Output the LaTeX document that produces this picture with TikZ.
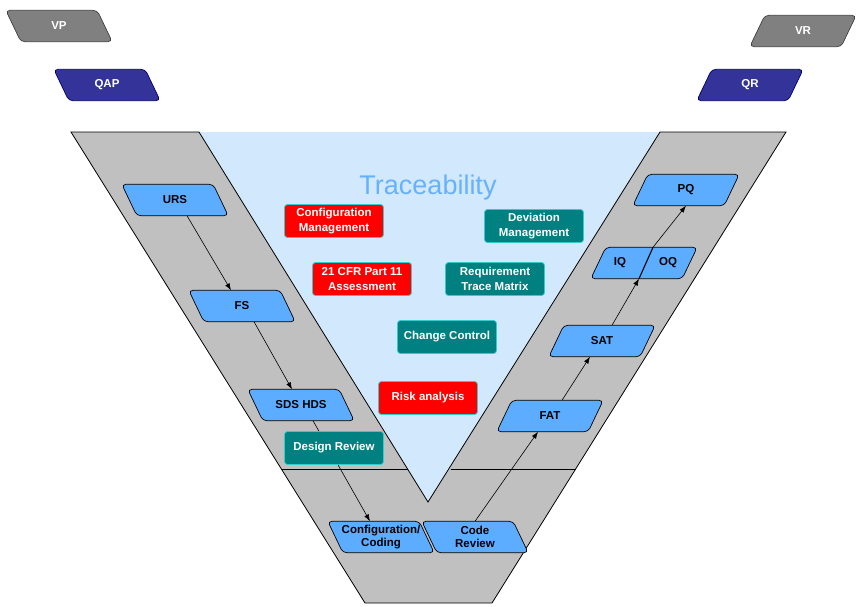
\documentclass[tikz,border=0pt]{standalone}
\usepackage{fontspec}
\setmainfont{Liberation Sans}
\usetikzlibrary{arrows.meta}
\definecolor{bandgray}{RGB}{192,192,192}
\definecolor{trifill}{RGB}{210,232,252}
\definecolor{boxblue}{RGB}{92,172,255}
\definecolor{tealc}{RGB}{0,128,128}
\definecolor{redc}{RGB}{255,0,0}
\definecolor{navyc}{RGB}{51,51,153}
\definecolor{navyb}{RGB}{0,0,110}
\definecolor{grayc}{RGB}{128,128,128}
\definecolor{grayb}{RGB}{64,64,64}
\definecolor{cyanb}{RGB}{51,204,204}
\definecolor{tracec}{RGB}{102,178,255}
\pgfdeclarelayer{bg}\pgfdeclarelayer{mid}\pgfsetlayers{bg,mid,main}
% #1 shape style, #2 text colour, #3 name, #4 position, #5 slant, #6 text
\newcommand{\pbox}[6]{%
  \node[ptext, text=#2] (#3) at #4 {#6};
  \begin{pgfonlayer}{mid}
    \path[pshape, #1] ([xshift={-(#5)*1pt}]#3.north west) -- ([xshift={-(#5)*1pt}]#3.north east)
      -- ([xshift={(#5)*1pt}]#3.south east) -- ([xshift={(#5)*1pt}]#3.south west) -- cycle;
  \end{pgfonlayer}}
\begin{document}
\begin{tikzpicture}[x=1pt,y=-1pt,
  ptext/.style={rectangle, minimum width=91pt, minimum height=31pt, inner sep=0pt,
    font=\fontsize{11.5}{13}\selectfont\bfseries, align=center},
  pshape/.style={rounded corners=4pt, line width=0.7pt},
  pblue/.style={fill=boxblue, draw=black},
  pgray/.style={fill=grayc, draw=grayb},
  pnavy/.style={fill=navyc, draw=navyb},
  rbox/.style={rectangle, rounded corners=3pt, minimum width=99pt, minimum height=33pt,
    draw=cyanb, line width=0.8pt, text=white, inner sep=1pt,
    font=\fontsize{11.5}{14.5}\selectfont\bfseries, align=center},
  redbox/.style={rbox, fill=redc},
  tealbox/.style={rbox, fill=tealc},
  arr/.style={draw=black, line width=0.6pt, -{Latex[length=7pt,width=5pt]}},
  lbl/.style={font=\fontsize{11.5}{13}\selectfont\bfseries, inner sep=0pt}
]
\useasboundingbox (0,0) rectangle (863,606);

% top boxes
\pbox{pgray}{white}{vp}{(59,26)}{7.5}{VP}
\pbox{pnavy}{white}{qap}{(107,85)}{7.5}{QAP}
\pbox{pgray}{white}{vr}{(803,31)}{-7.5}{VR}
\pbox{pnavy}{white}{qr}{(750,85)}{-7.5}{QR}

\node[text=tracec, font=\fontsize{27}{30}\selectfont, inner sep=0pt] (trace) at (428,188) {Traceability};

% V boxes
\pbox{pblue}{black}{urs}{(175,200)}{7.5}{URS}
\pbox{pblue}{black}{fs}{(242,306)}{7.5}{FS}
\pbox{pblue}{black}{sds}{(301,405)}{7.5}{SDS HDS}
\pbox{pblue}{black}{cc}{(381,537)}{7.5}{Configuration/\\Coding}
\pbox{pblue}{black}{cr}{(475,537)}{7.5}{Code\\Review}
\pbox{pblue}{black}{fat}{(550,416)}{-7.5}{FAT}
\pbox{pblue}{black}{sat}{(602,341)}{-7.5}{SAT}
\pbox{pblue}{black}{iqoq}{(644,263)}{-7.5}{}
\node[lbl] (iq) at (620,263) {IQ};
\node[lbl] (oq) at (668,263) {OQ};
\pbox{pblue}{black}{pq}{(686,190)}{-7.5}{PQ}

% inner boxes
\node[redbox] (cm) at (334,221) {Configuration\\Management};
\node[tealbox] (dm) at (534,226) {Deviation\\Management};
\node[redbox] (cfr) at (362,279) {21 CFR Part 11\\Assessment};
\node[tealbox] (rtm) at (495,279) {Requirement\\Trace Matrix};
\node[tealbox] (chc) at (447,337) {Change Control};
\node[redbox] (ra) at (428,398) {Risk analysis};
\node[tealbox] (dr) at (334,448) {Design Review};

\coordinate (divb) at ([xshift=-5pt]iqoq.south);
\coordinate (divt) at ([xshift=9pt]iqoq.north);
\draw[line width=1.1pt] (divb) -- (divt);

\begin{pgfonlayer}{bg}
  \fill[trifill] (199,132) -- (428,502) -- (660,132) -- cycle;
  \draw[fill=bandgray, line width=0.8pt] (71,132) -- (199,132) -- (428,502) -- (660,132)
    -- (786,132) -- (492,603) -- (365,603) -- cycle;
  \draw[line width=0.8pt] (281,469) -- (407.5,469);
  \draw[line width=0.8pt] (450.5,469) -- (576,469);
  \draw[arr] ([xshift=12pt]urs.south) -- ([xshift=-11pt]fs.north);
  \draw[arr] ([xshift=12pt]fs.south) -- ([xshift=-9pt]sds.north);
  \draw[arr] ([xshift=12pt]sds.south) -- ([xshift=-11pt]cc.north);
  \draw[arr] (cr.north) -- ([xshift=-12pt]fat.south);
  \draw[arr] ([xshift=12pt]fat.north) -- ([xshift=-12pt]sat.south);
  \draw[arr] ([xshift=10pt]sat.north) -- (divb);
  \draw[arr] (divt) -- (pq.south);
\end{pgfonlayer}
\end{tikzpicture}
\end{document}
